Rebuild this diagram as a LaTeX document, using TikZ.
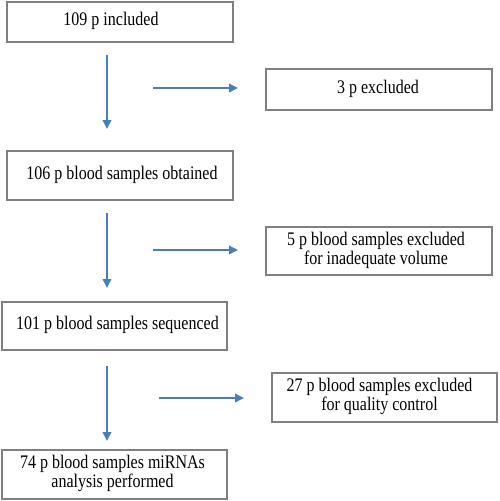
\documentclass[tikz,border=0pt]{standalone}
\usepackage{fontspec}
\setmainfont{Liberation Serif}
\usetikzlibrary{arrows.meta}
\definecolor{arrblue}{HTML}{4A7EBB}
\definecolor{boxgray}{HTML}{808080}
\newcommand{\tx}[2][0pt]{\kern\dimexpr2\dimexpr#1\relax\relax\scalebox{1}[1.2]{\begin{tabular}{@{}c@{}}#2\end{tabular}}}
\begin{document}
\begin{tikzpicture}[x=1pt,y=-1pt,
  box/.style={draw=boxgray,line width=1.2pt,fill=white,inner sep=0pt,align=center,
    font=\fontsize{16}{16}\selectfont},
  flow/.style={draw=arrblue,line width=1.8pt,-{Triangle[length=9pt,width=8.5pt]}}]
\useasboundingbox (0,0) rectangle (500,501);
% left column boxes
\node[box,minimum width=226pt,minimum height=40pt] (b1) at (120,22) {\tx[-9pt]{109 p included}};
\node[box,minimum width=226pt,minimum height=49pt] (b2) at (120,175.5) {\tx[2pt]{106 p blood samples obtained}};
\node[box,minimum width=225pt,minimum height=48pt] (b3) at (114.5,326) {\tx[3pt]{101 p blood samples sequenced}};
\node[box,minimum width=225pt,minimum height=49pt] (b4) at (114.5,474.5) {\tx[-2pt]{74 p blood samples miRNAs\\analysis performed}};
% right column boxes
\node[box,minimum width=226pt,minimum height=41pt] (e1) at (379,89.5) {\tx[-1pt]{3 p excluded}};
\node[box,minimum width=226pt,minimum height=48pt] (e2) at (379,251) {\tx[-3pt]{5 p blood samples excluded\\for inadequate volume}};
\node[box,minimum width=225pt,minimum height=49pt] (e3) at (384.5,397.5) {\tx[-5pt]{27 p blood samples excluded\\for quality control}};
% vertical arrows
\coordinate (v1s) at (107,55);  \coordinate (v1e) at (107,129);
\coordinate (v2s) at (107,213); \coordinate (v2e) at (107,288);
\coordinate (v3s) at (107,366); \coordinate (v3e) at (107,441);
\draw[flow] (v1s) -- (v1e);
\draw[flow] (v2s) -- (v2e);
\draw[flow] (v3s) -- (v3e);
% horizontal arrows
\coordinate (h1s) at (153,88);  \coordinate (h1e) at (238,88);
\coordinate (h2s) at (153,250); \coordinate (h2e) at (238,250);
\coordinate (h3s) at (159,398); \coordinate (h3e) at (244,398);
\draw[flow] (h1s) -- (h1e);
\draw[flow] (h2s) -- (h2e);
\draw[flow] (h3s) -- (h3e);
\end{tikzpicture}
\end{document}
